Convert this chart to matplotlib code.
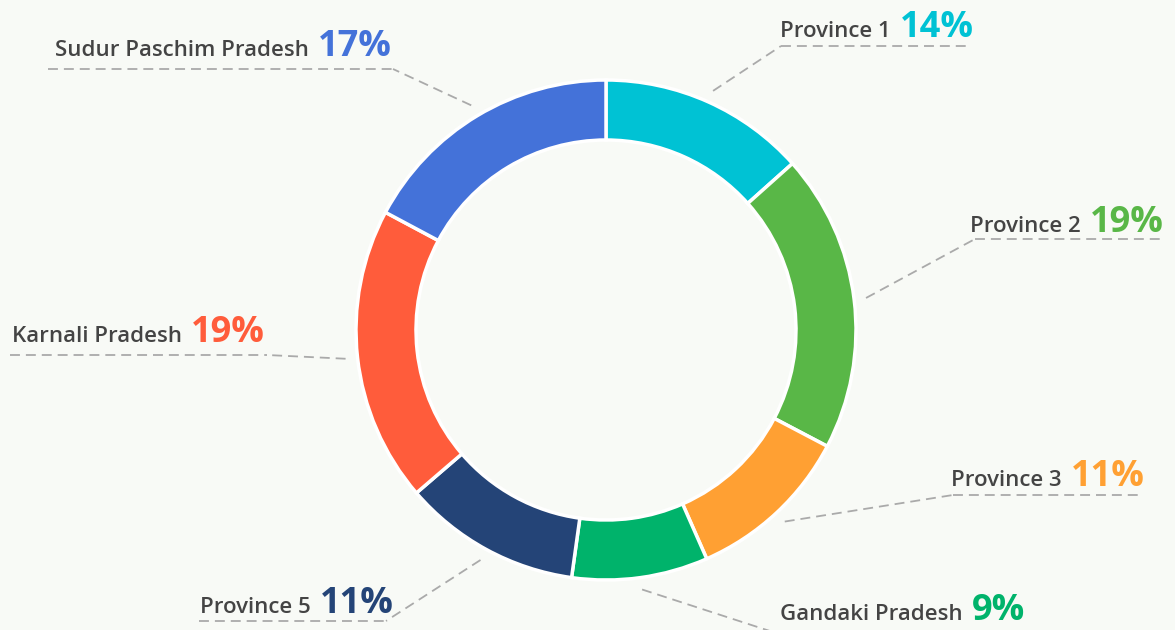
import numpy as np
import matplotlib.pyplot as plt

regions = ['Province 1', 'Province 2', 'Province 3', 'Gandaki Pradesh',
           'Province 5', 'Karnali Pradesh', 'Sudur Paschim Pradesh']
shares = [13.4, 19.3, 10.7, 8.8, 11.5, 19.1, 17.2]
pct_labels = ['14%', '19%', '11%', '9%', '11%', '19%', '17%']
colors = ['#00C2D4', '#59B747', '#FFA033', '#00B36B', '#244477', '#FF5C3B', '#4472D9']

W, H = 1175, 630
BG = '#F8FAF6'
cx, cy, R = 606, H - 330, 250

# label layout in pixel coords (from top): name x, baseline y, underline x0, x1, y, side
layout = [
    (780, 37, 781, 968, 46, 'left'),
    (970, 232, 975, 1162, 239, 'left'),
    (951, 486, 953, 1140, 495, 'left'),
    (780, 620, 776, 1035, 633, 'left'),
    (200, 613, 199, 386, 621, 'right'),
    (12, 342, 10, 267, 355, 'right'),
    (55, 56, 48, 393, 69, 'right'),
]

fig = plt.figure(figsize=(W / 100, H / 100), dpi=100, facecolor=BG)
ax = fig.add_axes([0, 0, 1, 1])
ax.set_facecolor(BG)

wedges, _ = ax.pie(shares, colors=colors, radius=R, center=(cx, cy),
                   startangle=90, counterclock=False,
                   wedgeprops=dict(width=60, edgecolor='white', linewidth=2.5))

ax.set_xlim(0, W)
ax.set_ylim(0, H)
ax.set_aspect('equal')
ax.set_axis_off()

fig.canvas.draw()
renderer = fig.canvas.get_renderer()

line_kw = dict(color='#AAAAAA', lw=1.3, linestyle=(0, (5.5, 3.3)), clip_on=False)

for w, name, pct, col, (nx, by, ux0, ux1, uy, side) in zip(
        wedges, regions, pct_labels, colors, layout):
    t = ax.text(nx, H - by, name, fontsize=16, fontweight='semibold',
                color='#444444', family='Open Sans', va='baseline', ha='left')
    bb = t.get_window_extent(renderer)
    ax.text(bb.x1 + 9, H - by, pct, fontsize=26, fontweight='bold',
            color=col, family='Open Sans', va='baseline', ha='left')

    # underline and leader line towards the wedge
    ax.plot([ux0, ux1], [H - uy, H - uy], **line_kw)
    mid = np.deg2rad((w.theta1 + w.theta2) / 2)
    sx = cx + (R + 12) * np.cos(mid)
    sy = cy + (R + 12) * np.sin(mid)
    ex = ux0 if side == 'left' else ux1
    ax.plot([sx, ex], [sy, H - uy], **line_kw)

fig.savefig('out.png', dpi=100, facecolor=BG)
